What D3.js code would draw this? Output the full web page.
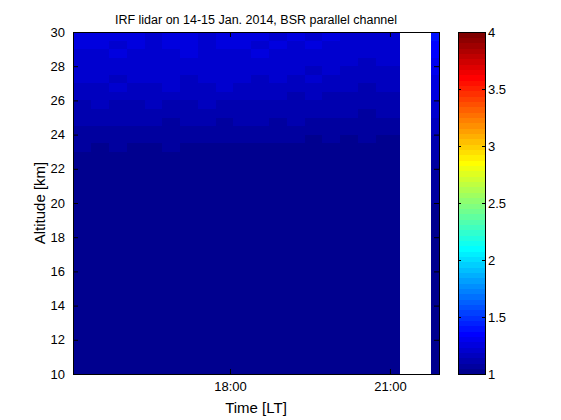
<!DOCTYPE html>
<html><head><meta charset="utf-8">
<script src="https://cdn.jsdelivr.net/npm/d3@7"></script>
<style>
body{margin:0;background:#fff;}
svg{display:block;font-family:"Liberation Sans",Arial,sans-serif;}
</style></head>
<body><svg id="c" width="561" height="420"></svg>
<script>
// ---- data ----
const titleText = "IRF lidar on 14-15 Jan. 2014, BSR parallel channel";
const xLabel = "Time [LT]";
const yLabel = "Altitude [km]";
const timeTicks = [18, 21];
const timeTickLabels = ["18:00", "21:00"];
const altTicks = [10, 12, 14, 16, 18, 20, 22, 24, 26, 28, 30];
const cbarTicks = [1, 1.5, 2, 2.5, 3, 3.5, 4];
const cbarTickLabels = ["1", "1.5", "2", "2.5", "3", "3.5", "4"];
// time bins (decimal local hours)
const timeStart = [15.06,15.40,15.73,16.06,16.40,16.73,17.06,17.40,17.73,18.06,18.40,18.73,19.06,19.40,19.73,20.06,20.40,20.73,21.77];
const timeEnd   = [15.40,15.73,16.06,16.40,16.73,17.06,17.40,17.73,18.06,18.40,18.73,19.06,19.40,19.73,20.06,20.40,20.73,21.17,21.92];
// altitude bin edges (km), top to bottom
const altEdges = [30,29.5,29,28.5,28,27.5,27,26.5,26,25.5,25,24.5,24,23.5,23,22.5,22,21,20,19,18,17,16,15,14,13,12,11,10];
// BSR values, one row per altitude bin (top to bottom), one column per time bin
const bsr = [
[1.26,1.24,1.27,1.25,1.23,1.26,1.24,1.22,1.25,1.27,1.24,1.23,1.26,1.22,1.24,1.21,1.23,1.22,1.42],
[1.24,1.25,1.23,1.26,1.22,1.24,1.25,1.23,1.24,1.25,1.22,1.24,1.23,1.25,1.21,1.22,1.20,1.21,1.36],
[1.23,1.22,1.24,1.22,1.23,1.21,1.24,1.22,1.23,1.22,1.24,1.21,1.23,1.22,1.21,1.20,1.21,1.19,1.33],
[1.22,1.23,1.21,1.22,1.20,1.23,1.21,1.22,1.20,1.23,1.21,1.22,1.20,1.21,1.19,1.20,1.18,1.19,1.31],
[1.20,1.21,1.22,1.19,1.21,1.20,1.22,1.19,1.21,1.20,1.22,1.19,1.20,1.18,1.19,1.17,1.18,1.17,1.29],
[1.19,1.20,1.18,1.20,1.19,1.21,1.18,1.20,1.19,1.21,1.18,1.19,1.17,1.19,1.16,1.17,1.16,1.15,1.27],
[1.18,1.17,1.19,1.18,1.17,1.19,1.18,1.17,1.19,1.18,1.17,1.18,1.16,1.17,1.15,1.16,1.14,1.15,1.26],
[1.16,1.17,1.15,1.17,1.16,1.15,1.17,1.16,1.15,1.17,1.15,1.16,1.14,1.15,1.14,1.13,1.14,1.12,1.24],
[1.14,1.15,1.14,1.13,1.15,1.14,1.13,1.15,1.14,1.13,1.14,1.13,1.12,1.14,1.12,1.11,1.12,1.11,1.22],
[1.13,1.12,1.13,1.12,1.11,1.13,1.12,1.11,1.13,1.12,1.11,1.12,1.11,1.10,1.11,1.10,1.09,1.10,1.20],
[1.11,1.10,1.11,1.10,1.11,1.09,1.11,1.10,1.09,1.11,1.10,1.09,1.10,1.09,1.08,1.09,1.08,1.07,1.18],
[1.09,1.08,1.09,1.08,1.07,1.09,1.08,1.07,1.08,1.07,1.08,1.07,1.06,1.08,1.06,1.07,1.06,1.05,1.16],
[1.07,1.06,1.07,1.06,1.07,1.05,1.06,1.07,1.05,1.06,1.05,1.06,1.05,1.04,1.05,1.04,1.05,1.04,1.14],
[1.05,1.04,1.05,1.04,1.03,1.05,1.04,1.03,1.04,1.03,1.04,1.03,1.04,1.03,1.02,1.03,1.02,1.02,1.12],
[1.03,1.02,1.03,1.02,1.03,1.02,1.01,1.03,1.02,1.01,1.02,1.01,1.02,1.01,1.02,1.01,1.01,1.00,1.10],
[1.02,1.01,1.02,1.01,1.00,1.02,1.01,1.00,1.01,1.00,1.01,1.00,1.01,1.00,1.00,1.01,1.00,1.00,1.08],
[1.01,1.00,1.01,1.00,1.00,1.01,1.00,1.00,1.01,1.00,1.00,1.00,1.01,1.00,1.00,1.00,1.00,1.00,1.06],
[1.00,1.00,1.00,1.00,1.00,1.00,1.00,1.00,1.00,1.00,1.00,1.00,1.00,1.00,1.00,1.00,1.00,1.00,1.05],
[1.00,1.00,1.00,1.00,1.00,1.00,1.00,1.00,1.00,1.00,1.00,1.00,1.00,1.00,1.00,1.00,1.00,1.00,1.04],
[1.00,1.00,1.00,1.00,1.00,1.00,1.00,1.00,1.00,1.00,1.00,1.00,1.00,1.00,1.00,1.00,1.00,1.00,1.03],
[1.00,1.00,1.00,1.00,1.00,1.00,1.00,1.00,1.00,1.00,1.00,1.00,1.00,1.00,1.00,1.00,1.00,1.00,1.02],
[1.00,1.00,1.00,1.00,1.00,1.00,1.00,1.00,1.00,1.00,1.00,1.00,1.00,1.00,1.00,1.00,1.00,1.00,1.01],
[1.00,1.00,1.00,1.00,1.00,1.00,1.00,1.00,1.00,1.00,1.00,1.00,1.00,1.00,1.00,1.00,1.00,1.00,1.01],
[1.00,1.00,1.00,1.00,1.00,1.00,1.00,1.00,1.00,1.00,1.00,1.00,1.00,1.00,1.00,1.00,1.00,1.00,1.01],
[1.00,1.00,1.00,1.00,1.00,1.00,1.00,1.00,1.00,1.00,1.00,1.00,1.00,1.00,1.00,1.00,1.00,1.00,1.00],
[1.00,1.00,1.00,1.00,1.00,1.00,1.00,1.00,1.00,1.00,1.00,1.00,1.00,1.00,1.00,1.00,1.00,1.00,1.00],
[1.00,1.00,1.00,1.00,1.00,1.00,1.00,1.00,1.00,1.00,1.00,1.00,1.00,1.00,1.00,1.00,1.00,1.00,1.00],
[1.00,1.00,1.00,1.00,1.00,1.00,1.00,1.00,1.00,1.00,1.00,1.00,1.00,1.00,1.00,1.00,1.00,1.00,1.00]
];

// ---- layout ----
const P = {x0:73, x1:439, y0:32, y1:374};
const CB = {x0:458, x1:485};
const svg = d3.select("#c");

// MATLAB-like jet(64) colormap
const nLev = 64;
const clamp = v => Math.max(0, Math.min(1, v));
const jetColors = d3.range(nLev).map(k => {
  const t = (k + 1) / nLev;
  const r = clamp(Math.min(4*t - 1.5, -4*t + 4.5));
  const g = clamp(Math.min(4*t - 0.5, -4*t + 3.5));
  const b = clamp(Math.min(4*t + 0.5, -4*t + 2.5));
  return d3.rgb(r*255, g*255, b*255).formatHex();
});
const color = d3.scaleQuantize().domain([1, 4]).range(jetColors);

const x = d3.scaleLinear().domain([15.056, 21.92]).range([P.x0, P.x1]);
const y = d3.scaleLinear().domain([10, 30]).range([P.y1, P.y0]);

// heatmap cells
const cells = [];
bsr.forEach((row, i) => row.forEach((v, j) => cells.push({i, j, v})));
svg.append("g").attr("shape-rendering", "crispEdges")
  .selectAll("rect").data(cells).join("rect")
  .attr("x", d => x(timeStart[d.j]))
  .attr("width", d => x(timeEnd[d.j]) - x(timeStart[d.j]) + 0.5)
  .attr("y", d => y(altEdges[d.i]))
  .attr("height", d => y(altEdges[d.i+1]) - y(altEdges[d.i]) + 0.5)
  .attr("fill", d => color(d.v));

// axes (box, inward ticks)
const tickLen = 5;
const fs = 13;
const axB = svg.append("g").attr("transform", `translate(0,${P.y1})`)
  .call(d3.axisBottom(x).tickValues(timeTicks).tickFormat((d,i) => timeTickLabels[i]).tickSizeInner(-tickLen).tickSizeOuter(0).tickPadding(8));
const axT = svg.append("g").attr("transform", `translate(0,${P.y0})`)
  .call(d3.axisTop(x).tickValues(timeTicks).tickFormat("").tickSizeInner(-tickLen).tickSizeOuter(0));
const axL = svg.append("g").attr("transform", `translate(${P.x0},0)`)
  .call(d3.axisLeft(y).tickValues(altTicks).tickFormat(d3.format("d")).tickSizeInner(-tickLen).tickSizeOuter(0).tickPadding(8));
const axR = svg.append("g").attr("transform", `translate(${P.x1},0)`)
  .call(d3.axisRight(y).tickValues(altTicks).tickFormat("").tickSizeInner(-tickLen).tickSizeOuter(0));
[axB, axT, axL, axR].forEach(a => {
  a.select(".domain").remove();
  a.selectAll("line").attr("stroke", "#000");
  a.selectAll("text").attr("font-size", fs).attr("fill", "#000").attr("font-family", "Liberation Sans, Arial, sans-serif");
});
svg.append("rect").attr("x", P.x0).attr("y", P.y0).attr("width", P.x1-P.x0).attr("height", P.y1-P.y0)
  .attr("fill", "none").attr("stroke", "#000").attr("stroke-width", 1).attr("shape-rendering", "crispEdges");

// colorbar
const cy = d3.scaleLinear().domain([1, 4]).range([P.y1, P.y0]);
const levels = d3.range(nLev);
svg.append("g").attr("shape-rendering", "crispEdges")
  .selectAll("rect").data(levels).join("rect")
  .attr("x", CB.x0).attr("width", CB.x1 - CB.x0)
  .attr("y", k => cy(1 + 3*(k+1)/nLev))
  .attr("height", k => cy(1 + 3*k/nLev) - cy(1 + 3*(k+1)/nLev) + 0.5)
  .attr("fill", k => jetColors[k]);
const cbR = svg.append("g").attr("transform", `translate(${CB.x1},0)`)
  .call(d3.axisRight(cy).tickValues(cbarTicks).tickFormat((d,i) => cbarTickLabels[i]).tickSizeInner(-3).tickSizeOuter(0).tickPadding(3));
const cbL = svg.append("g").attr("transform", `translate(${CB.x0},0)`)
  .call(d3.axisLeft(cy).tickValues(cbarTicks).tickFormat("").tickSizeInner(-3).tickSizeOuter(0));
[cbR, cbL].forEach(a => {
  a.select(".domain").remove();
  a.selectAll("line").attr("stroke", "#000");
  a.selectAll("text").attr("font-size", fs).attr("fill", "#000").attr("font-family", "Liberation Sans, Arial, sans-serif");
});
svg.append("rect").attr("x", CB.x0).attr("y", P.y0).attr("width", CB.x1-CB.x0).attr("height", P.y1-P.y0)
  .attr("fill", "none").attr("stroke", "#000").attr("shape-rendering", "crispEdges");

// labels
svg.append("text").attr("x", (P.x0+P.x1)/2).attr("y", 24).attr("text-anchor", "middle")
  .attr("font-size", 12.5).text(titleText);
svg.append("text").attr("x", (P.x0+P.x1)/2).attr("y", 413).attr("text-anchor", "middle")
  .attr("font-size", 15).text(xLabel);
svg.append("text").attr("transform", `translate(45,${(P.y0+P.y1)/2}) rotate(-90)`).attr("text-anchor", "middle")
  .attr("font-size", 15).text(yLabel);
</script></body></html>
